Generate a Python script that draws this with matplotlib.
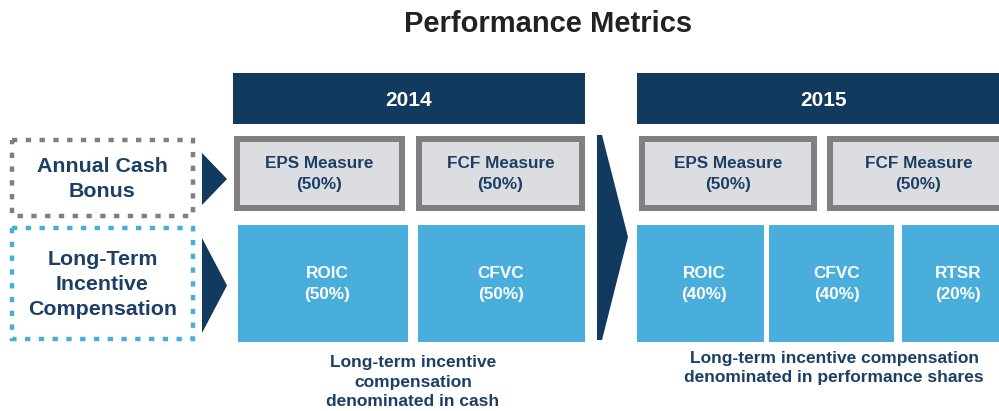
import matplotlib.pyplot as plt
from matplotlib.patches import Rectangle, Polygon

plt.rcParams['font.family'] = ['Liberation Sans', 'DejaVu Sans']

# data
title = 'Performance Metrics'
years = ['2014', '2015']
row_labels = ['Annual Cash\nBonus', 'Long-Term\nIncentive\nCompensation']
cash_measures = ['EPS Measure', 'FCF Measure']
cash_weights = [50, 50]
ltip_2014 = ['ROIC', 'CFVC']
ltip_2014_weights = [50, 50]
ltip_2015 = ['ROIC', 'CFVC', 'RTSR']
ltip_2015_weights = [40, 40, 20]
notes = ['Long-term incentive\ncompensation\ndenominated in cash',
         'Long-term incentive compensation\ndenominated in performance shares']

navy = '#12395e'
text_navy = '#1c3f66'
blue = '#4aaedc'
grey_edge = '#7f7f7f'
grey_fill = '#dcdde0'

fig = plt.figure(figsize=(9.99, 4.11), dpi=100)
ax = fig.add_axes([0, 0, 1, 1])
ax.set_xlim(0, 999)
ax.set_ylim(411, 0)
ax.axis('off')

ax.text(548, 24, title, ha='center', va='center', fontsize=21,
        fontweight='bold', color='#222222')

# year headers
header_x = [(233, 585), (637, 1010)]
header_text_x = [409, 824]
for (x0, x1), tx, yr in zip(header_x, header_text_x, years):
    ax.add_patch(Rectangle((x0, 73), x1 - x0, 51, color=navy, lw=0))
    ax.text(tx, 100, yr, ha='center', va='center', fontsize=15,
            fontweight='bold', color='white')

# row labels with dotted frames
frames = [(12, 140, 193, 216, grey_edge, 153, 205),
          (12, 228, 193, 339, blue, 238, 333)]
for (x0, y0, x1, y1, c, ay0, ay1), lab in zip(frames, row_labels):
    ax.add_patch(Rectangle((x0, y0), x1 - x0, y1 - y0, fill=False,
                           edgecolor=c, lw=3.2, ls=(0, (1.2, 1.9))))
    ax.text((x0 + x1) / 2, (y0 + y1) / 2 + 1, lab, ha='center', va='center',
            fontsize=15.4, fontweight='bold', color=text_navy, linespacing=1.38)
    ax.add_patch(Polygon([(202, ay0), (227, (ay0 + ay1) / 2), (202, ay1)],
                         closed=True, color=navy, lw=0))

# big chevron between years
ax.add_patch(Polygon([(597, 135), (602, 135), (628, 237), (602, 340), (597, 340)],
                     closed=True, color=navy, lw=0))


def grey_box(x0, x1, name, w):
    y0, y1 = 136, 211
    ax.add_patch(Rectangle((x0, y0), x1 - x0, y1 - y0, color=grey_edge, lw=0))
    ax.add_patch(Rectangle((x0 + 6, y0 + 6), x1 - x0 - 12, y1 - y0 - 12,
                           color=grey_fill, lw=0))
    ax.text((x0 + x1) / 2, 174, f'{name}\n({w}%)', ha='center', va='center',
            fontsize=12.3, fontweight='bold', color=text_navy, linespacing=1.43)


def blue_box(x0, x1, name, w, tx):
    y0, y1 = 225, 342
    ax.add_patch(Rectangle((x0, y0), x1 - x0, y1 - y0, color=blue, lw=0))
    ax.text(tx, 284, f'{name}\n({w}%)', ha='center', va='center',
            fontsize=12.3, fontweight='bold', color='white', linespacing=1.43)


# 2014
for (x0, x1), n, w in zip([(234, 405), (416, 585)], cash_measures, cash_weights):
    grey_box(x0, x1, n, w)
for (x0, x1), tx, n, w in zip([(238, 408), (418, 585)], [327, 501],
                              ltip_2014, ltip_2014_weights):
    blue_box(x0, x1, n, w, tx)

# 2015
for (x0, x1), n, w in zip([(639, 817), (827, 1010)], cash_measures, cash_weights):
    grey_box(x0, x1, n, w)
for (x0, x1), tx, n, w in zip([(637, 764), (769, 894), (902, 1010)],
                              [704, 837, 958], ltip_2015, ltip_2015_weights):
    blue_box(x0, x1, n, w, tx)

# notes
ax.text(413, 382, notes[0], ha='center', va='center', fontsize=12.5,
        fontweight='bold', color=text_navy, linespacing=1.36)
ax.text(834, 368, notes[1], ha='center', va='center', fontsize=12.5,
        fontweight='bold', color=text_navy, linespacing=1.36)

fig.savefig('out.png', dpi=100)
